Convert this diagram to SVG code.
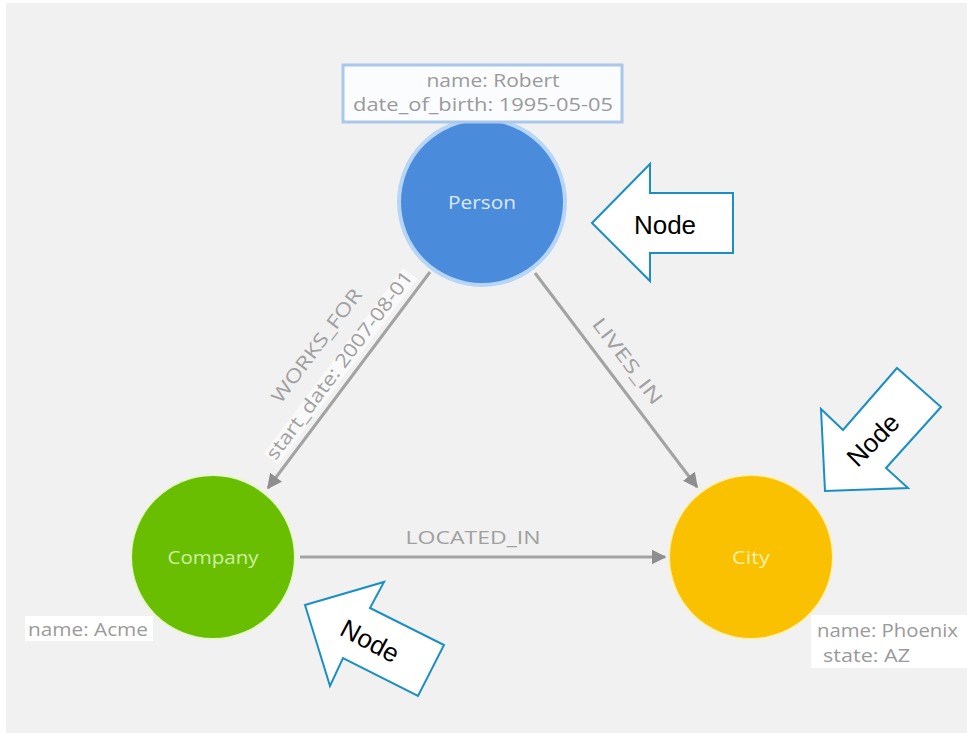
<svg xmlns="http://www.w3.org/2000/svg" width="967" height="733" viewBox="0 0 967 733">
<style>
.bg{fill:#f1f1f1}
.rel{stroke:#a3a3a3;stroke-width:3;fill:none}
.rl{font-family:"Open Sans","Liberation Sans",sans-serif;font-size:19px;fill:#a0a0a0}
.prop{font-family:"Open Sans","Liberation Sans",sans-serif;font-size:18.5px;fill:#9a9a9a}
.nl{font-family:"Open Sans","Liberation Sans",sans-serif;font-size:19px;text-anchor:middle;dominant-baseline:central}
.call{fill:#ffffff;stroke:#1a8fc4;stroke-width:2}
.ct{font-family:"Liberation Sans",Arial,sans-serif;font-size:26px;fill:#000;text-anchor:middle;dominant-baseline:central}
</style>
<defs>
<marker id="ah" viewBox="0 0 10 10" refX="9" refY="5" markerWidth="5" markerHeight="5" orient="auto" markerUnits="strokeWidth">
<path d="M0,0 L10,5 L0,10 z" fill="#8e8e8e"/>
</marker>
</defs>
<rect x="0" y="0" width="967" height="733" fill="#ffffff"/>
<rect class="bg" x="6" y="3" width="961" height="730"/>

<g id="connectors">
<line class="rel" x1="430" y1="272" x2="268" y2="488" marker-end="url(#ah)"/>
<line class="rel" x1="535" y1="273" x2="697" y2="487" marker-end="url(#ah)"/>
<line class="rel" x1="300" y1="557" x2="665" y2="557" marker-end="url(#ah)"/>
<g transform="translate(349,380) rotate(-53.13)">
<rect x="-110" y="-24" width="232" height="18" fill="#ffffff" opacity="0.55"/>
<text class="rl" x="8" y="-40" text-anchor="middle" textLength="137" lengthAdjust="spacingAndGlyphs">WORKS_FOR</text>
<text class="rl" x="6" y="-10" text-anchor="middle" textLength="230" lengthAdjust="spacingAndGlyphs">start_date: 2007-08-01</text>
</g>
<g transform="translate(616,380) rotate(52.9)">
<text class="rl" x="-8" y="-14" text-anchor="middle" textLength="103" lengthAdjust="spacingAndGlyphs">LIVES_IN</text>
</g>
<text class="rl" x="473" y="544" text-anchor="middle" font-size="20" textLength="135" lengthAdjust="spacingAndGlyphs">LOCATED_IN</text>
</g>

<g id="person">
<circle cx="482" cy="202" r="85" fill="#b7d6f7"/>
<circle cx="482" cy="202" r="81" fill="#4a8bdc"/>
<text class="nl" x="482" y="202" fill="#dce9fa" textLength="68" lengthAdjust="spacingAndGlyphs">Person</text>
<rect x="343" y="65" width="279" height="57" fill="#fbfcfe" stroke="#a9c8ea" stroke-width="3"/>
<text class="prop" x="493" y="87" text-anchor="middle" textLength="133" lengthAdjust="spacingAndGlyphs">name: Robert</text>
<text class="prop" x="483" y="111" text-anchor="middle" textLength="260" lengthAdjust="spacingAndGlyphs">date_of_birth: 1995-05-05</text>
</g>

<g id="company">
<circle cx="213" cy="557" r="83" fill="#e7f7d0"/>
<circle cx="213" cy="557" r="81" fill="#69be02"/>
<text class="nl" x="213" y="557" fill="#cdf0a6" textLength="91" lengthAdjust="spacingAndGlyphs">Company</text>
<rect x="25" y="616" width="128" height="25" fill="#ffffff"/>
<text class="prop" x="28" y="636" textLength="120" lengthAdjust="spacingAndGlyphs">name: Acme</text>
</g>

<g id="city">
<circle cx="751" cy="557" r="83" fill="#fff0c0"/>
<circle cx="751" cy="557" r="81" fill="#f9c100"/>
<text class="nl" x="751" y="557" fill="#fff0a8" textLength="38" lengthAdjust="spacingAndGlyphs">City</text>
<rect x="811" y="615" width="156" height="53" fill="#ffffff"/>
<text class="prop" x="817" y="637" textLength="141" lengthAdjust="spacingAndGlyphs">name: Phoenix</text>
<text class="prop" x="823" y="662" textLength="87" lengthAdjust="spacingAndGlyphs">state: AZ</text>
</g>

<g id="callout-person">
<polygon class="call" points="592,223 650,164 650,193 733,193 733,253 650,253 650,281"/>
<text class="ct" x="665" y="225">Node</text>
</g>

<g id="callout-city">
<polygon class="call" points="825,491 821,409 843,430 897,368 941,407 886,468 908,488"/>
<text class="ct" x="873" y="440" transform="rotate(-45 873 440)">Node</text>
</g>

<g id="callout-company">
<polygon class="call" points="305,605 384,582 370,608 444,645 418,696 343,658 330,686"/>
<text class="ct" x="370" y="641" transform="rotate(28 370 641)">Node</text>
</g>
</svg>
